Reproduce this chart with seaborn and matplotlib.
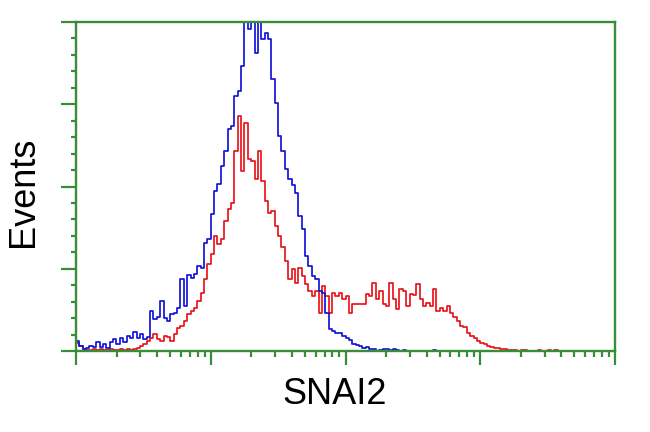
import numpy as np
import pandas as pd
import matplotlib
matplotlib.use("Agg")
import matplotlib.pyplot as plt
import seaborn as sns
from matplotlib.ticker import LogLocator, NullFormatter

# ---- data (histogram counts, bins of 1/40 decade starting at 10^0) ----
blue_counts = [10, 5, 2, 3, 5, 4, 9, 4, 7, 3,
               9, 12, 7, 13, 9, 15, 13, 19, 13, 17,
               12, 14, 40, 32, 34, 50, 33, 30, 37, 38,
               43, 72, 45, 76, 73, 77, 85, 83, 108, 112,
               137, 160, 167, 185, 200, 222, 225, 255, 260, 285,
               335, 322, 335, 298, 335, 312, 318, 312, 272, 248,
               215, 200, 182, 172, 166, 158, 135, 122, 95, 85,
               75, 72, 60, 58, 38, 22, 20, 18, 18, 15,
               13, 11, 7, 6, 5, 3, 4, 2, 2, 0,
               1, 2, 2, 1, 2, 1, 0, 1, 0, 0,
               0, 0, 0, 0, 0, 0, 1]
red_counts = [8, 5, 2, 1, 1, 2, 1, 2, 1, 1,
              2, 1, 1, 2, 1, 2, 1, 2, 3, 5,
              7, 10, 13, 17, 12, 10, 15, 14, 10, 17,
              23, 25, 30, 37, 40, 43, 50, 58, 72, 87,
              97, 115, 107, 112, 130, 142, 148, 200, 235, 180,
              228, 192, 190, 172, 200, 170, 150, 138, 140, 125,
              115, 104, 90, 72, 82, 68, 83, 75, 67, 60,
              55, 60, 38, 65, 55, 38, 58, 55, 58, 52,
              55, 38, 47, 47, 47, 47, 57, 55, 68, 52,
              60, 47, 45, 68, 52, 42, 62, 60, 45, 57,
              56, 67, 52, 45, 48, 45, 62, 40, 43, 40,
              45, 38, 34, 30, 25, 24, 18, 15, 13, 10,
              8, 7, 5, 4, 3, 3, 2, 2, 1, 1,
              1, 0, 1, 1, 0, 0, 0, 1, 0, 0,
              1, 0, 1]
samples = ["red", "blue"]
sample_colors = {"red": "#e8141c", "blue": "#1414d8"}
x_label = "SNAI2"
y_label = "Events"
n_bins = 160
decades = 4
y_max = 329

sns.set_theme(style="white")
plt.rcParams['font.family'] = ['Liberation Sans', 'DejaVu Sans']

green = "#388e38"
centers = 10 ** ((np.arange(n_bins) + 0.5) / (n_bins / decades))


def frame(counts, name):
    c = np.zeros(n_bins)
    c[:len(counts)] = counts
    return pd.DataFrame({"channel": centers, "count": c, "sample": name})


df = pd.concat([frame(red_counts, "red"), frame(blue_counts, "blue")],
               ignore_index=True)

fig = plt.figure(figsize=(6.5, 4.32), dpi=100)
ax = fig.add_axes([76 / 650, 1 - 351 / 432, (615 - 76) / 650, (351 - 22) / 432])

for name in samples:
    sub = df[df["sample"] == name]
    sns.histplot(data=sub, x="channel", weights="count", bins=n_bins,
                 binrange=(0, decades), log_scale=True, element="step",
                 fill=False, color=sample_colors[name], linewidth=1.25, ax=ax)

ax.set_xlim(1, 10 ** decades)
ax.set_ylim(0, y_max)
ax.set_xlabel("")
ax.set_ylabel("")

ax.set_xticks([10 ** d for d in range(decades + 1)])
ax.xaxis.set_minor_locator(LogLocator(base=10, subs=range(2, 10), numticks=20))
ax.xaxis.set_major_formatter(NullFormatter())
ax.xaxis.set_minor_formatter(NullFormatter())
ax.set_yticks(np.linspace(0, y_max, 5))
ax.set_yticks(np.linspace(0, y_max, 21), minor=True)
ax.yaxis.set_major_formatter(NullFormatter())
ax.yaxis.set_minor_formatter(NullFormatter())

ax.tick_params(axis="x", which="major", direction="out", length=10, width=1.6,
               color=green, bottom=True, top=False)
ax.tick_params(axis="x", which="minor", direction="out", length=4.5, width=1.6,
               color=green, bottom=True, top=False)
ax.tick_params(axis="y", which="major", direction="out", length=11, width=1.6,
               color=green, left=True, right=False)
ax.tick_params(axis="y", which="minor", direction="out", length=3.6, width=1.6,
               color=green, left=True, right=False)
ax.grid(False)
for s in ax.spines.values():
    s.set_color(green)
    s.set_linewidth(1.7)
    s.set_visible(True)

fig.text(335 / 650, 1 - 395 / 432, x_label, fontsize=26, ha="center", va="center",
         color="black")
fig.text(23 / 650, 1 - 192 / 432, y_label, fontsize=26, ha="center", va="center",
         rotation=90, color="black")

fig.savefig("out.png", dpi=100, facecolor="white")
